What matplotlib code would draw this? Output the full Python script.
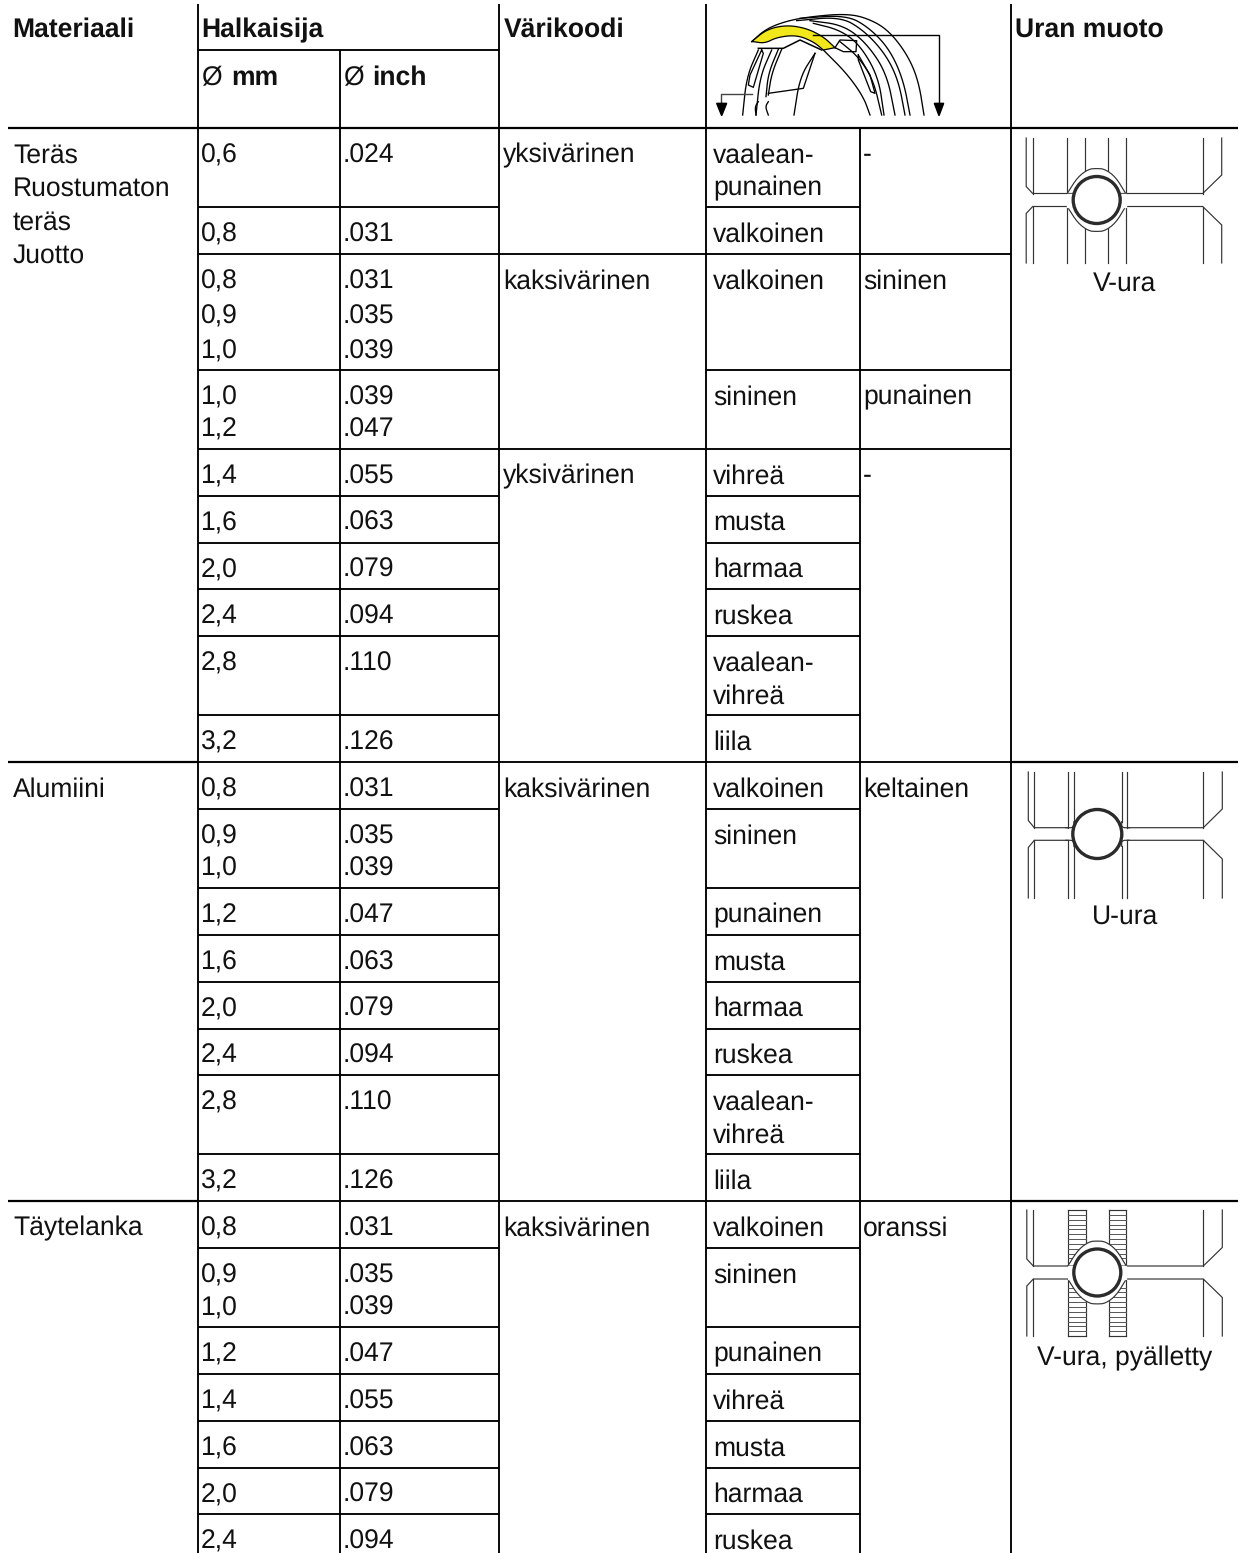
import numpy as np
import matplotlib
matplotlib.use("Agg")
import matplotlib.pyplot as plt
from matplotlib.patches import Circle, Polygon

plt.rcParams['font.family'] = ['Liberation Sans', 'DejaVu Sans']
plt.rcParams['text.hinting'] = 'no_hinting'

materials = ["Teräs\nRuostumaton\nteräs\nJuotto", "", "", "", "", "", "", "", "", "",
             "Alumiini", "", "", "", "", "", "", "",
             "Täytelanka", "", "", "", "", "", ""]
diam_mm = ["0,6", "0,8", "0,8\n0,9\n1,0", "1,0\n1,2", "1,4", "1,6", "2,0", "2,4", "2,8", "3,2",
           "0,8", "0,9\n1,0", "1,2", "1,6", "2,0", "2,4", "2,8", "3,2",
           "0,8", "0,9\n1,0", "1,2", "1,4", "1,6", "2,0", "2,4"]
diam_inch = [".024", ".031", ".031\n.035\n.039", ".039\n.047", ".055", ".063", ".079", ".094", ".110", ".126",
             ".031", ".035\n.039", ".047", ".063", ".079", ".094", ".110", ".126",
             ".031", ".035\n.039", ".047", ".055", ".063", ".079", ".094"]
color_code = ["yksivärinen", "", "kaksivärinen", "", "yksivärinen", "", "", "", "", "",
              "kaksivärinen", "", "", "", "", "", "", "",
              "kaksivärinen", "", "", "", "", "", ""]
color_a = ["vaalean-\npunainen", "valkoinen", "valkoinen", "sininen", "vihreä", "musta", "harmaa",
           "ruskea", "vaalean-\nvihreä", "liila",
           "valkoinen", "sininen", "punainen", "musta", "harmaa", "ruskea", "vaalean-\nvihreä", "liila",
           "valkoinen", "sininen", "punainen", "vihreä", "musta", "harmaa", "ruskea"]
color_b = ["-", "", "sininen", "punainen", "-", "", "", "", "", "",
           "keltainen", "", "", "", "", "", "", "",
           "oranssi", "", "", "", "", "", ""]
groove_names = ["V-ura", "U-ura", "V-ura, pyälletty"]

COLS = [8, 198, 340, 499, 706, 860, 1011, 1238]
ROW_H = {1: 46.85, 2: 79, 3: 116}
LW = 1.35
FS = 19.1


def smooth(pts, n=3):
    pts = np.array(pts, dtype=float)
    for _ in range(n):
        q = pts[:-1] * 0.75 + pts[1:] * 0.25
        r = pts[:-1] * 0.25 + pts[1:] * 0.75
        mid = np.empty((len(q) * 2, 2))
        mid[0::2] = q
        mid[1::2] = r
        pts = np.vstack([pts[0], mid, pts[-1]])
    return pts


def hline(ax, y, x0, x1, lw=LW):
    ax.plot([x0, x1], [y, y], color="black", lw=lw, solid_capstyle="butt", zorder=2)


def vline(ax, x, y0, y1, lw=LW):
    ax.plot([x, x], [y0, y1], color="black", lw=lw, solid_capstyle="butt", zorder=2)


def put_text(ax, x, y, s, gap=32.5, **kw):
    for i, line in enumerate(s.split("\n")):
        ax.text(x, y + i * gap, line, fontsize=FS, color="#111111", va="baseline", **kw)


def draw_table(ax):
    for x in [198, 499, 706, 1011]:
        vline(ax, x, 4, 1553)
    vline(ax, 340, 50, 1553)
    vline(ax, 860, 128, 1553)
    hline(ax, 50, 198, 499)
    hline(ax, 128, 8, 1238, 1.6)

    put_text(ax, 12, 37, "Materiaali", fontweight="bold")
    put_text(ax, 201, 37, "Halkaisija", fontweight="bold")
    put_text(ax, 504, 37, "Värikoodi", fontweight="bold")
    put_text(ax, 1015, 37, "Uran muoto", fontweight="bold")
    put_text(ax, 201, 85, "Ø")
    put_text(ax, 231, 85, "mm", fontweight="bold")
    put_text(ax, 343, 85, "Ø")
    put_text(ax, 372, 85, "inch", fontweight="bold")

    y = 128
    for i in range(len(diam_mm)):
        n = max(s.count("\n") + 1 for s in [diam_mm[i], diam_inch[i], color_a[i]])
        h = ROW_H[n]
        gap = 35 if n == 3 else 32.5
        if i > 0:
            hline(ax, y, COLS[1], COLS[3])
            hline(ax, y, COLS[4], COLS[5])
            if materials[i]:
                hline(ax, y, COLS[0], COLS[1], 1.6)
                hline(ax, y, COLS[6], COLS[7], 1.6)
            if color_code[i]:
                hline(ax, y, COLS[3], COLS[4])
            if color_b[i]:
                hline(ax, y, COLS[5], COLS[6])
        base = y + 34.5
        if materials[i]:
            put_text(ax, 13, base, materials[i], gap=33.5)
        put_text(ax, 201, base, diam_mm[i], gap=gap)
        put_text(ax, 343, base, diam_inch[i], gap=gap)
        put_text(ax, 503, base, color_code[i], gap=gap)
        put_text(ax, 713, base, color_a[i], gap=gap)
        put_text(ax, 863, base, color_b[i], gap=gap)
        y += h


def draw_wheel(ax):
    # ring sketch in the header, traced in 1/3 px units from x=700
    def conv(pts):
        return np.array(pts, dtype=float) / 3 + [700, 0]

    arcs = [
        [(155, 125), (200, 85), (270, 60), (350, 48), (430, 42), (490, 50), (560, 85), (620, 160), (655, 240), (672, 345)],
        [(300, 55), (440, 45), (510, 85), (570, 150), (610, 240), (630, 345)],
        [(290, 62), (420, 50), (490, 90), (555, 160), (595, 240), (615, 345)],
        [(330, 62), (430, 75), (500, 130), (560, 220), (585, 345)],
        [(340, 70), (420, 90), (480, 135), (535, 230), (552, 345)],
        [(420, 125), (475, 170), (520, 240), (545, 345)],
        [(175, 150), (140, 230), (128, 345)],
        [(215, 150), (180, 230), (168, 345)],
        [(235, 148), (205, 220), (198, 290)],
        [(245, 148), (215, 220), (205, 285)],
        [(345, 160), (300, 230), (282, 345)],
        [(370, 150), (440, 220), (490, 290), (510, 345)],
        [(175, 305), (165, 320), (168, 345)],
        [(205, 305), (196, 320), (205, 345)],
    ]
    for pts in arcs:
        p = smooth(conv(pts))
        ax.plot(p[:, 0], p[:, 1], color="black", lw=0.95, zorder=3)

    # slots
    for pts in ([(185, 150), (150, 225), (145, 255), (160, 262), (190, 160), (185, 150)],
                [(475, 165), (510, 225), (525, 280), (512, 275), (475, 180), (475, 165)]):
        p = conv(pts)
        ax.plot(p[:, 0], p[:, 1], color="black", lw=0.95, zorder=3)

    top = smooth(conv([(155, 125), (200, 88), (260, 75), (320, 85), (370, 110), (405, 143)]))
    low = smooth(conv([(370, 150), (340, 125), (290, 105), (230, 112), (195, 130), (160, 125)]))
    ax.add_patch(Polygon(np.vstack([top, low]), closed=True, facecolor="#f2e71a", edgecolor="black",
                         lw=0.9, zorder=4))

    # nozzle stub and links
    p = conv([(405, 143), (420, 120), (470, 122), (468, 155), (430, 155), (405, 143)])
    ax.plot(p[:, 0], p[:, 1], color="black", lw=0.95, zorder=3)
    p = conv([(205, 280), (310, 265), (345, 160)])
    ax.plot(p[:, 0], p[:, 1], color="black", lw=0.95, zorder=3)
    p = conv([(175, 145), (250, 145), (300, 120), (365, 150)])
    ax.plot(p[:, 0], p[:, 1], color="black", lw=1.1, zorder=3)

    # arrows
    p = conv([(340, 105), (716, 105), (716, 315)])
    ax.plot(p[:, 0], p[:, 1], color="black", lw=1.0, zorder=5)
    ax.add_patch(Polygon(conv([(703, 310), (731, 310), (717, 347)]), closed=True, color="black", zorder=5))
    p = conv([(155, 282), (63, 282), (63, 315)])
    ax.plot(p[:, 0], p[:, 1], color="#444444", lw=1.0, zorder=5)
    ax.add_patch(Polygon(conv([(50, 310), (80, 310), (65, 347)]), closed=True, color="black", zorder=5))


def draw_groove(ax, cx, cy, inner, half, top, bottom, chamfer_r, kind):
    c = "#333333"
    lw = 0.85
    xl0, xl1, xr0, xr1 = cx - 70.5, cx - 64, cx + 106, cx + 125
    if kind == "U":
        xl0, xl1 = cx - 69, cx - 63

    def seg(xs, ys, z=3, w=lw, col=c):
        ax.plot(xs, ys, color=col, lw=w, zorder=z, solid_joinstyle="miter")

    # body outline, upper and lower half
    for s, end in ((-1, top), (1, bottom)):
        y_ch = cy + s * half
        seg([xl0, xl0, xl1, cx + inner[0]], [end, cy + s * 13.5, y_ch, y_ch])
        seg([xl1, xl1], [end, y_ch])
        seg([xr1, xr1, xr0, cx + inner[-1]], [end, cy + s * chamfer_r, y_ch, y_ch])
        seg([xr0, xr0], [end, y_ch])
        for dx in inner:
            if kind == "U" and abs(dx) < 26:
                seg([cx + dx, cx + dx], [end, cy + s * (half + 6)])
            else:
                seg([cx + dx, cx + dx], [end, cy + s * 20 if abs(dx) < 20 else y_ch])

    if kind == "K":
        # knurled bands between the inner verticals
        for a, b in ((inner[0], inner[1]), (inner[2], inner[3])):
            for y in np.arange(top, bottom + 1, 4.85):
                if abs(y - cy) > half + 4:
                    seg([cx + a, cx + b], [y, y], w=0.7, col="#555555")
            seg([cx + a, cx + b], [top, top])
            seg([cx + a, cx + b], [bottom, bottom])

    r = 23.5
    if kind in ("V", "K"):
        # V groove: pointed lens behind the wire
        for s in (-1, 1):
            lens = smooth([(-29.5, s * half), (-19, s * 23), (-8, s * 31), (0, s * 31.5),
                           (8, s * 31), (19, s * 23), (29, s * half)], 2) + [cx, cy]
            ax.fill(lens[:, 0], lens[:, 1], facecolor="white", edgecolor=c, lw=lw, zorder=4)
        ax.fill([cx - 29.5, cx + 29, cx + 29, cx - 29.5],
                [cy - half, cy - half, cy + half, cy + half], color="white", zorder=4)
    else:
        r = 24.5
        # small fillets from the channel up into the inner verticals
        for s in (-1, 1):
            for sx, dx_in, dx_out in ((-1, inner[1], inner[0]), (1, inner[2], inner[3])):
                p = smooth([(dx_in, s * (half + 6)), (dx_in, s * half), (dx_out + sx * 2, s * half)], 2) + [cx, cy]
                ax.plot(p[:, 0], p[:, 1], color=c, lw=lw, zorder=3)
    ax.add_patch(Circle((cx, cy), r, facecolor="white", edgecolor="#2b2b2b", lw=2.4, zorder=5))


def main():
    fig = plt.figure(figsize=(12.4, 15.53), dpi=100)
    ax = fig.add_axes([0, 0, 1, 1])
    ax.set_xlim(0, 1240)
    ax.set_ylim(1553, 0)
    ax.axis("off")

    draw_table(ax)
    draw_wheel(ax)

    draw_groove(ax, 1096.7, 200, [-29.4, -11.4, 11.3, 29], 6.5, 138, 263, 25, "V")
    draw_groove(ax, 1097.3, 834, [-29.4, -23.4, 24.4, 30], 6.3, 772, 898, 25, "U")
    draw_groove(ax, 1097.3, 1272.5, [-29.4, -11.4, 11.3, 29], 6.5, 1210, 1336, 25, "K")

    for name, y in zip(groove_names, [291, 924, 1365]):
        ax.text(1125, y, name, fontsize=FS, color="#111111", ha="center", va="baseline")

    fig.savefig("out.png", dpi=100, facecolor="white")


if __name__ == "__main__":
    main()
